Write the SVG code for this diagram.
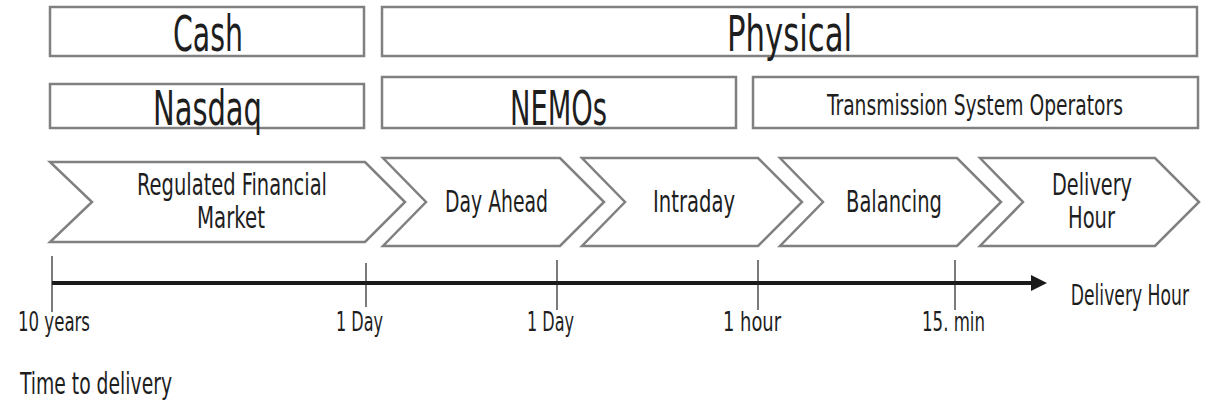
<svg xmlns="http://www.w3.org/2000/svg" width="1210" height="415" viewBox="0 0 1210 415">
<style>
.box{fill:#fff;stroke:#808080;stroke-width:2.5}
.chev{fill:#fff;stroke:#808080;stroke-width:2.5;stroke-linejoin:miter}
text{font-family:"Liberation Sans Narrow","DejaVu Sans Condensed","Liberation Sans",sans-serif;fill:#1e1e1e}
.tick{stroke:#222;stroke-width:1.2}
</style>
<defs>
<marker id="ah" markerWidth="4" markerHeight="4" refX="1" refY="2" orient="auto" markerUnits="strokeWidth">
<path d="M0,0 L4,2 L0,4 z" fill="#1a1a1a"/>
</marker>
</defs>
<rect width="1210" height="415" fill="#fff"/>

<g id="cash"><rect class="box" x="50" y="7" width="314" height="49"/><text x="173" y="51" font-size="50" textLength="70" lengthAdjust="spacingAndGlyphs">Cash</text></g>
<g id="physical"><rect class="box" x="382" y="7" width="815" height="49"/><text x="727" y="51" font-size="50" textLength="125" lengthAdjust="spacingAndGlyphs">Physical</text></g>
<g id="nasdaq"><rect class="box" x="50" y="84" width="314" height="44"/><text x="153" y="125" font-size="48" textLength="109" lengthAdjust="spacingAndGlyphs">Nasdaq</text></g>
<g id="nemos"><rect class="box" x="382" y="77" width="354" height="51"/><text x="510" y="125" font-size="48" textLength="97" lengthAdjust="spacingAndGlyphs">NEMOs</text></g>
<g id="tso"><rect class="box" x="753" y="77" width="445" height="51"/><text transform="matrix(0.736,0,0,1,975,115)" x="0" y="0" font-size="28" text-anchor="middle" textLength="402" lengthAdjust="spacingAndGlyphs">Transmission System Operators</text></g>

<g id="rfm"><polygon class="chev" points="50,162 365,162 405,202 365,242 50,242 92,202"/><text x="137" y="195" font-size="31" textLength="190" lengthAdjust="spacingAndGlyphs">Regulated Financial</text><text x="197" y="228" font-size="31" textLength="68" lengthAdjust="spacingAndGlyphs">Market</text></g>
<g id="dayahead"><polygon class="chev" points="383,158 560,158 604,202 560,246 383,246 426,202"/><text x="445" y="212" font-size="31" textLength="103" lengthAdjust="spacingAndGlyphs">Day Ahead</text></g>
<g id="intraday"><polygon class="chev" points="582,158 758,158 802,202 758,246 582,246 625,202"/><text x="653" y="212" font-size="31" textLength="82" lengthAdjust="spacingAndGlyphs">Intraday</text></g>
<g id="balancing"><polygon class="chev" points="780,158 957,158 1001,202 957,246 780,246 823,202"/><text x="846" y="212" font-size="31" textLength="96" lengthAdjust="spacingAndGlyphs">Balancing</text></g>
<g id="delivery"><polygon class="chev" points="980,158 1155,158 1199,202 1155,246 980,246 1023,202"/><text x="1052" y="195" font-size="31" textLength="80" lengthAdjust="spacingAndGlyphs">Delivery</text><text x="1068" y="228" font-size="31" textLength="47" lengthAdjust="spacingAndGlyphs">Hour</text></g>

<g id="connectors">
<line x1="52" y1="283" x2="1035" y2="283" stroke="#1a1a1a" stroke-width="4" marker-end="url(#ah)"/>
<line class="tick" x1="52" y1="256" x2="52" y2="312"/>
<line class="tick" x1="366" y1="263" x2="366" y2="307"/>
<line class="tick" x1="557" y1="260" x2="557" y2="310"/>
<line class="tick" x1="758" y1="260" x2="758" y2="310"/>
<line class="tick" x1="955" y1="260" x2="955" y2="310"/>
</g>

<g id="labels">
<text transform="matrix(0.657,0,0,1,1189,305)" x="0" y="0" font-size="29" text-anchor="end" textLength="180" lengthAdjust="spacingAndGlyphs">Delivery Hour</text>
<text x="18" y="331" font-size="26" textLength="72" lengthAdjust="spacingAndGlyphs">10 years</text>
<text x="336" y="331" font-size="26" textLength="47" lengthAdjust="spacingAndGlyphs">1 Day</text>
<text x="527" y="331" font-size="26" textLength="47" lengthAdjust="spacingAndGlyphs">1 Day</text>
<text x="723" y="331" font-size="26" textLength="58" lengthAdjust="spacingAndGlyphs">1 hour</text>
<text x="922" y="331" font-size="26" textLength="63" lengthAdjust="spacingAndGlyphs">15. min</text>
<text x="20" y="394" font-size="30" textLength="152" lengthAdjust="spacingAndGlyphs">Time to delivery</text>
</g>
</svg>
